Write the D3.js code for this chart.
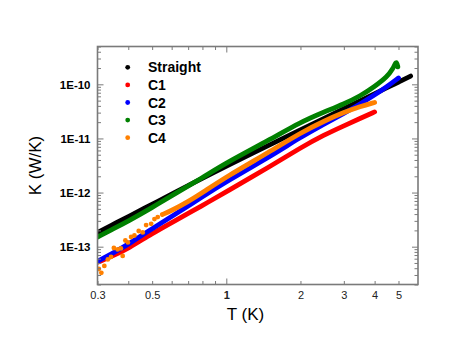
<!DOCTYPE html>
<html><head><meta charset="utf-8">
<script src="https://cdn.jsdelivr.net/npm/d3@7"></script>
<style>html,body{margin:0;padding:0;background:#fff;}svg{display:block;}</style>
</head><body>
<script>
// ---- data ----
const seriesNames = ["Straight", "C1", "C2", "C3", "C4"];
const seriesColors = ["#000000", "#ff0000", "#0000ff", "#008000", "#ff8000"];

const T_straight = [0.3,0.35,0.4,0.5,0.6,0.8,1,1.5,2,2.5,3,3.5,4,4.5,5,5.6];
const K_straight = [1.83e-13,2.62e-13,3.60e-13,6.09e-13,9.34e-13,1.84e-12,3.09e-12,7.62e-12,1.44e-11,2.36e-11,3.55e-11,4.99e-11,6.71e-11,8.69e-11,1.10e-10,1.42e-10];

const T_C1 = [0.3,0.35,0.4,0.5,0.6,0.8,1,1.5,2,2.5,3,3.5,4];
const K_C1 = [5.12e-14,6.89e-14,9.27e-14,1.75e-13,2.79e-13,5.74e-13,1.04e-12,3.00e-12,6.71e-12,1.17e-11,1.71e-11,2.35e-11,3.09e-11];

const T_C2 = [0.3,0.35,0.4,0.5,0.6,0.8,1,1.5,2,2.5,3,3.5,4,4.5,5];
const K_C2 = [5.34e-14,7.82e-14,1.10e-13,2.16e-13,3.60e-13,8.40e-13,1.59e-12,4.58e-12,1.05e-11,1.86e-11,2.90e-11,4.34e-11,6.35e-11,9.11e-11,1.31e-10];

const T_C3 = [0.3,0.35,0.4,0.5,0.6,0.8,1,1.5,2,2.5,3,3.5,4,4.5,4.75,4.85,4.92,4.97];
const K_C3 = [1.51e-13,2.16e-13,2.97e-13,5.27e-13,8.77e-13,1.88e-12,3.55e-12,9.42e-12,2.00e-11,3.09e-11,4.34e-11,6.09e-11,9.10e-11,1.38e-10,1.95e-10,2.45e-10,2.58e-10,2.10e-10];

const T_C4 = [0.55,0.6,0.7,0.8,1,1.5,2,2.5,3,3.5,4];
const K_C4 = [3.92e-13,4.64e-13,6.80e-13,9.96e-13,1.96e-12,5.67e-12,1.27e-11,2.11e-11,3.03e-11,3.90e-11,4.62e-11];
// scattered low-temperature C4 points
const T_C4_low = [0.3038,0.3110,0.3198,0.3304,0.3405,0.3496,0.3622,0.3733,0.3796,0.3893,0.3985,0.4107,0.4236,0.4410,0.4578,0.4726,0.4954,0.5109,0.5268];
const K_C4_low = [3.88e-14,3.28e-14,4.41e-14,5.81e-14,6.46e-14,9.46e-14,8.88e-14,9.27e-14,6.74e-14,1.30e-13,1.20e-13,1.51e-13,1.61e-13,1.95e-13,1.83e-13,2.51e-13,2.64e-13,3.24e-13,3.52e-13];

const xTickValues = [0.3,0.5,1,2,3,4,5];
const xMinorValues = [0.3,0.4,0.5,0.6,0.7,0.8,0.9,1,2,3,4,5];
const yTickValues = [1e-13,1e-12,1e-11,1e-10];
const yTickLabels = ["1E-13","1E-12","1E-11","1E-10"];
const xDomain = [0.3, 6];
const yDomain = [2e-14, 5e-10];

// ---- layout ----
const W = 463, H = 349;
const L = 97.5, R = 418, Tp = 46.5, B = 284.5;

const svg = d3.select("body").append("svg").attr("width", W).attr("height", H);
const x = d3.scaleLog().domain(xDomain).range([L, R]);
const y = d3.scaleLog().domain(yDomain).range([B, Tp]);

svg.append("defs").append("clipPath").attr("id","clip")
  .append("rect").attr("x",L).attr("y",Tp).attr("width",R-L).attr("height",B-Tp);

const pts = (T,K)=>T.map((t,i)=>[t,K[i]]);
const data = [
  pts(T_straight,K_straight), pts(T_C1,K_C1), pts(T_C2,K_C2), pts(T_C3,K_C3), pts(T_C4,K_C4)
];

const line = d3.line().x(d=>x(d[0])).y(d=>y(d[1])).curve(d3.curveBasis);
const g = svg.append("g").attr("clip-path","url(#clip)");
data.forEach((s,i)=>{
  g.append("path").datum(s).attr("d",line).attr("fill","none")
    .attr("stroke",seriesColors[i]).attr("stroke-width",4.8)
    .attr("stroke-linecap","round").attr("stroke-linejoin","round");
  if(i===4){
    g.selectAll(null).data(pts(T_C4_low,K_C4_low)).enter().append("circle")
      .attr("cx",d=>x(d[0])).attr("cy",d=>y(d[1])).attr("r",2.4).attr("fill",seriesColors[4]);
  }
});

// ---- axes ----
const axCol = "#7a7a7a";
const minorY = [];
for(let e=-14;e<=-10;e++){ for(let m=1;m<=9;m++){ const v=m*Math.pow(10,e); if(v>=yDomain[0]&&v<=yDomain[1]) minorY.push(v);} }

function yAxis(side){
  const ax = (side==="left"?d3.axisRight(y):d3.axisLeft(y))
    .tickValues(minorY).tickFormat("").tickSizeOuter(0)
    .tickSize(0);
  const gg = svg.append("g").attr("transform",`translate(${side==="left"?L:R},0)`).call(ax);
  gg.select(".domain").remove();
  gg.selectAll(".tick line").attr("stroke",axCol).attr("stroke-width",1)
    .attr("x2",d=>{const isMaj=Math.abs(Math.log10(d)-Math.round(Math.log10(d)))<1e-6; const len=isMaj?6:3.5; return side==="left"?len:-len;});
}
yAxis("left"); yAxis("right");

function xAxis(side){
  const ax = (side==="bottom"?d3.axisTop(x):d3.axisBottom(x))
    .tickValues(xMinorValues).tickFormat("").tickSize(0);
  const gg = svg.append("g").attr("transform",`translate(0,${side==="bottom"?B:Tp})`).call(ax);
  gg.select(".domain").remove();
  gg.selectAll(".tick line").attr("stroke",axCol).attr("stroke-width",1)
    .attr("y2",d=>{const len=(d===1)?6:3.5; return side==="bottom"?-len:len;});
}
xAxis("bottom"); xAxis("top");

// frame
svg.append("rect").attr("x",L).attr("y",Tp).attr("width",R-L).attr("height",B-Tp)
  .attr("fill","none").attr("stroke",axCol).attr("stroke-width",1.6);

// tick labels
const xl = d3.axisBottom(x).tickValues(xTickValues).tickFormat(d=>String(d)).tickSize(0).tickPadding(0);
const xg = svg.append("g").attr("transform",`translate(0,${B})`).call(xl);
xg.select(".domain").remove();
xg.selectAll(".tick text").attr("font-family","Arial, 'Liberation Sans', sans-serif")
  .attr("font-size",11).attr("fill","#222").attr("dy",null).attr("y",14)
  .attr("font-weight",d=>d===1?"bold":"normal");

const yl = d3.axisLeft(y).tickValues(yTickValues).tickFormat((d,i)=>yTickLabels[i]).tickSize(0).tickPadding(0);
const yg = svg.append("g").attr("transform",`translate(${L},0)`).call(yl);
yg.select(".domain").remove();
yg.selectAll(".tick text").attr("font-family","Arial, 'Liberation Sans', sans-serif")
  .attr("font-size",11.5).attr("font-weight","bold").attr("fill","#000").attr("x",-7);

// axis titles
svg.append("text").attr("x",245.5).attr("y",320).attr("text-anchor","middle")
  .attr("font-family","Arial, 'Liberation Sans', sans-serif").attr("font-size",17).text("T (K)");
svg.append("text").attr("transform",`translate(41,${(Tp+B)/2}) rotate(-90)`).attr("text-anchor","middle")
  .attr("font-family","Arial, 'Liberation Sans', sans-serif").attr("font-size",17).text("K (W/K)");

// legend
const lg = svg.append("g");
seriesNames.forEach((n,i)=>{
  const yy = 67.3 + i*17.6;
  lg.append("circle").attr("cx",127.7).attr("cy",yy).attr("r",2.4).attr("fill",seriesColors[i]);
  lg.append("text").attr("x",148).attr("y",yy+5).attr("font-family","Arial, 'Liberation Sans', sans-serif")
    .attr("font-size",14).attr("font-weight","bold").text(n);
});
</script>
</body></html>
